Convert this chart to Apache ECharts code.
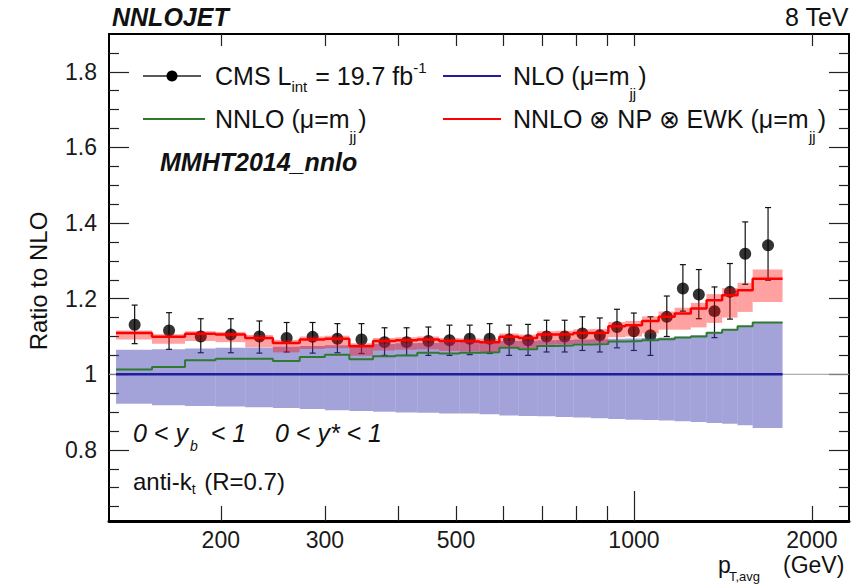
<!DOCTYPE html>
<html><head><meta charset="utf-8">
<script src="https://cdn.jsdelivr.net/npm/echarts@6/dist/echarts.min.js"></script>
<style>html,body{margin:0;padding:0;background:#fff}#c{width:864px;height:586px}</style>
</head><body><div id="c"></div>
<script>
// ---------------- data ----------------
const binEdges = [133,153,174,196,220,245,272,300,330,362,395,430,468,507,548,592,638,686,737,790,846,905,967,1032,1101,1172,1248,1327,1410,1497,1588,1784];
const cmsRatio = [1.131,1.116,1.100,1.105,1.100,1.096,1.099,1.094,1.092,1.085,1.085,1.088,1.090,1.094,1.094,1.092,1.090,1.100,1.100,1.108,1.103,1.125,1.114,1.103,1.152,1.227,1.211,1.167,1.218,1.319,1.341];
const cmsHigh  = [1.183,1.163,1.147,1.147,1.141,1.137,1.137,1.134,1.134,1.123,1.123,1.125,1.130,1.130,1.134,1.130,1.132,1.143,1.143,1.152,1.149,1.172,1.162,1.152,1.207,1.290,1.277,1.231,1.293,1.403,1.441];
const cmsLow   = [1.081,1.066,1.057,1.057,1.056,1.059,1.056,1.057,1.055,1.050,1.050,1.050,1.050,1.052,1.055,1.050,1.050,1.059,1.059,1.063,1.059,1.070,1.063,1.050,1.100,1.167,1.147,1.097,1.146,1.238,1.249];
const nnloRatio = [1.013,1.019,1.037,1.041,1.041,1.035,1.046,1.052,1.040,1.048,1.050,1.057,1.055,1.057,1.058,1.070,1.066,1.075,1.076,1.079,1.080,1.087,1.088,1.090,1.093,1.097,1.100,1.110,1.118,1.127,1.137];
const fullRatio = [1.109,1.099,1.107,1.105,1.096,1.083,1.092,1.094,1.074,1.088,1.090,1.092,1.088,1.087,1.085,1.099,1.096,1.105,1.106,1.109,1.110,1.127,1.130,1.141,1.152,1.161,1.174,1.196,1.209,1.222,1.253];
const fullUp   = [1.116,1.106,1.114,1.112,1.104,1.091,1.100,1.102,1.082,1.096,1.098,1.100,1.096,1.095,1.094,1.108,1.105,1.114,1.115,1.119,1.120,1.138,1.141,1.153,1.166,1.176,1.189,1.212,1.228,1.242,1.277];
const fullDown = [1.092,1.081,1.088,1.085,1.072,1.058,1.067,1.069,1.049,1.063,1.065,1.066,1.062,1.061,1.059,1.072,1.069,1.078,1.079,1.082,1.083,1.098,1.100,1.108,1.118,1.118,1.124,1.136,1.150,1.165,1.191];
const nloRatio = [1,1,1,1,1,1,1,1,1,1,1,1,1,1,1,1,1,1,1,1,1,1,1,1,1,1,1,1,1,1,1];
const nloUp   = [1.065,1.066,1.068,1.070,1.071,1.073,1.075,1.077,1.078,1.080,1.082,1.083,1.085,1.086,1.087,1.088,1.089,1.090,1.091,1.092,1.093,1.094,1.095,1.096,1.097,1.099,1.103,1.112,1.119,1.128,1.138];
const nloDown = [0.922,0.918,0.916,0.915,0.913,0.911,0.908,0.905,0.903,0.901,0.899,0.898,0.896,0.896,0.894,0.891,0.890,0.889,0.887,0.886,0.884,0.882,0.880,0.879,0.878,0.876,0.874,0.871,0.869,0.865,0.858];
const xTickValues = [200,300,400,500,600,700,800,900,2000];
const xLongTickValues = [1000];
const xLabelValues = [200,300,500,1000,2000];
const yMajorValues = [0.8,1.0,1.2,1.4,1.6,1.8];
const yMinorValues = [0.65,0.7,0.75,0.85,0.9,0.95,1.05,1.1,1.15,1.25,1.3,1.35,1.45,1.5,1.55,1.65,1.7,1.75,1.85];
const xRange = [129.4, 2311];
const yRange = [0.612, 1.9];

// ---------------- helpers ----------------
const FF = '"Liberation Sans", Arial, Helvetica, sans-serif';
const mctx = document.createElement('canvas').getContext('2d');
function fnt(size, st) { return (st ? st + ' ' : '') + size + 'px ' + FF; }
function meas(t, size, st) { mctx.font = fnt(size, st); return mctx.measureText(t).width; }
function textRun(x, y, parts, color) {
  const els = []; let cx = x;
  parts.forEach(p => {
    const s = p.s || 25;
    cx += (p.pre || 0);
    els.push({type:'text', x: cx, y: y + (p.dy || 0), z: 100,
      style:{text:p.t, font:fnt(s, p.st), fill: color || '#111', align:'left', verticalAlign:'middle', textAlign:'left', textVerticalAlign:'middle'}});
    cx += meas(p.t, s, p.st) + (p.gap || 0);
  });
  return els;
}
function hline(x1, x2, y, color, w) {
  return {type:'line', z:100, shape:{x1:x1, y1:y, x2:x2, y2:y}, style:{stroke:color, lineWidth:w}};
}

const COL_NLO = '#1e1e9e', COL_NNLO = '#2f7a2f', COL_FULL = '#ff0000';

// derived structures
const centers = cmsRatio.map((_, i) => (binEdges[i] + binEdges[i + 1]) / 2);
const pointData = cmsRatio.map((v, i) => [centers[i], v]);
const errData = cmsRatio.map((v, i) => [centers[i], cmsLow[i], cmsHigh[i]]);
const nloBand = nloUp.map((u, i) => [binEdges[i], binEdges[i + 1], nloDown[i], u]);
const fullBand = fullUp.map((u, i) => [binEdges[i], binEdges[i + 1], fullDown[i], u]);
const stepData = arr => binEdges.map((e, i) => [e, arr[Math.min(i, arr.length - 1)]]);

function bandRender(fill) {
  return function (params, api) {
    const a = api.coord([api.value(0), api.value(3)]);
    const b = api.coord([api.value(1), api.value(2)]);
    return {type:'rect', shape:{x:a[0], y:a[1], width:b[0] - a[0], height:b[1] - a[1]}, style:{fill:fill}};
  };
}
function errRender(params, api) {
  const x = api.value(0);
  const t = api.coord([x, api.value(2)]);
  const b = api.coord([x, api.value(1)]);
  const c = 3, st = {stroke:'#111', lineWidth:1.2};
  return {type:'group', children:[
    {type:'line', shape:{x1:t[0], y1:t[1], x2:b[0], y2:b[1]}, style:st},
    {type:'line', shape:{x1:t[0] - c, y1:t[1], x2:t[0] + c, y2:t[1]}, style:st},
    {type:'line', shape:{x1:b[0] - c, y1:b[1], x2:b[0] + c, y2:b[1]}, style:st}
  ]};
}

const axFont = {fontFamily: FF, fontSize: 23, color: '#1a1a1a'};
function xAx(pos, ticks, len, labels, lineW) {
  return {type:'log', logBase:10, min:xRange[0], max:xRange[1], position:pos, gridIndex:0,
    axisLine: lineW ? {show:true, onZero:false, lineStyle:{color:'#000', width:lineW}} : {show:false},
    axisTick:{show:true, inside:true, length:len, customValues:ticks, lineStyle:{color:'#222', width:1.2}},
    axisLabel: labels ? Object.assign({show:true, customValues:labels, margin:7, formatter: v => String(Math.round(v))}, axFont) : {show:false},
    splitLine:{show:false}, minorTick:{show:false}};
}
function yAx(pos, ticks, len, labels, lineW) {
  return {type:'value', min:yRange[0], max:yRange[1], position:pos, gridIndex:0,
    axisLine: lineW ? {show:true, onZero:false, lineStyle:{color:'#000', width:lineW}} : {show:false},
    axisTick:{show:true, inside:true, length:len, customValues:ticks, lineStyle:{color:'#222', width:1.2}},
    axisLabel: labels ? Object.assign({show:true, customValues:labels, margin:12, formatter: v => String(Math.round(v * 10) / 10)}, axFont) : {show:false},
    splitLine:{show:false}};
}

// ---------------- graphics (texts & legend) ----------------
const g = [];
g.push(...textRun(112, 17, [{t:'NNLOJET', s:25, st:'italic bold'}]));
const tev = '8 TeV';
g.push(...textRun(849 - meas(tev, 25), 17, [{t:tev, s:25}]));
g.push({type:'text', x:38, y:281, rotation:Math.PI / 2, z:100,
  style:{text:'Ratio to NLO', font:fnt(24), fill:'#111', align:'center', verticalAlign:'middle', textAlign:'center', textVerticalAlign:'middle'}});
// legend row 1
g.push(hline(143, 201, 76, '#222', 1.5));
g.push({type:'circle', z:100, shape:{cx:172, cy:76, r:5.5}, style:{fill:'#000'}});
g.push(...textRun(215, 76, [{t:'CMS L', s:25}, {t:'int', s:15, dy:10, gap:1}, {t:' = 19.7 fb', s:25}, {t:'-1', s:15, dy:-9}]));
g.push(hline(443, 501, 76, COL_NLO, 2));
g.push(...textRun(513, 76, [{t:'NLO (μ=m', s:25}, {t:'jj', s:15, dy:17, gap:2}, {t:')', s:25}]));
// legend row 2
g.push(hline(143, 205, 119, COL_NNLO, 2));
g.push(...textRun(215, 119, [{t:'NNLO (μ=m', s:25}, {t:'jj', s:15, dy:17, gap:2}, {t:')', s:25}]));
g.push(hline(443, 501, 119, COL_FULL, 2));
g.push(...textRun(513, 119, [{t:'NNLO ⊗ NP ⊗ EWK (μ=m', s:25}, {t:'jj', s:15, dy:17, gap:2}, {t:')', s:25}]));
g.push(...textRun(160, 162, [{t:'MMHT2014_nnlo', s:25, st:'italic bold'}]));
// kinematic labels
g.push(...textRun(133, 433, [{t:'0 < y', s:25, st:'italic'}, {t:'b', s:14, st:'italic', dy:13, pre:2, gap:6}, {t:' < 1', s:25, st:'italic'}]));
g.push(...textRun(275, 433, [{t:'0 < y* < 1', s:25, st:'italic'}]));
g.push(...textRun(133, 481, [{t:'anti-k', s:24}, {t:'t', s:14, dy:8, gap:2}, {t:' (R=0.7)', s:24}]));
// x title
g.push(...textRun(718, 565, [{t:'p', s:23}]));
g.push(...textRun(729, 576, [{t:'T,avg', s:13}]));
g.push(...textRun(783, 565, [{t:'(GeV)', s:23}]));

// ---------------- chart ----------------
const chart = echarts.init(document.getElementById('c'), null, {renderer:'svg', width:864, height:586});
chart.setOption({
  backgroundColor:'#fff',
  animation:false,
  grid:{left:109, top:34, width:740, height:487, containLabel:false},
  xAxis:[
    xAx('bottom', xTickValues, 15, xLabelValues, 3),
    xAx('bottom', xLongTickValues, 30, null, 0),
    xAx('top', xTickValues.concat(xLongTickValues), 12, null, 2)
  ],
  yAxis:[
    yAx('left', yMajorValues, 20, yMajorValues, 2),
    yAx('left', yMinorValues, 10, null, 0),
    yAx('right', yMajorValues, 20, null, 2),
    yAx('right', yMinorValues, 10, null, 0)
  ],
  series:[
    {type:'line', name:'ref', data:[[xRange[0], 1], [xRange[1], 1]], symbol:'none', z:1,
      lineStyle:{color:'#999', width:1}, silent:true},
    {type:'custom', name:'CMS err', data:errData, renderItem:errRender, encode:{x:0, y:[1, 2]}, z:2},
    {type:'scatter', name:'CMS', data:pointData, symbol:'circle', symbolSize:12, itemStyle:{color:'#000'}, z:3},
    {type:'custom', name:'NLO band', data:nloBand, renderItem:bandRender('rgba(60,60,176,0.47)'), encode:{x:[0, 1], y:[2, 3]}, z:4},
    {type:'custom', name:'NNLO NP EWK band', data:fullBand, renderItem:bandRender('rgba(255,0,0,0.37)'), encode:{x:[0, 1], y:[2, 3]}, z:5},
    {type:'line', name:'NLO', data:stepData(nloRatio), step:'end', symbol:'none', z:6, lineStyle:{color:COL_NLO, width:2.5}},
    {type:'line', name:'NNLO', data:stepData(nnloRatio), step:'end', symbol:'none', z:7, lineStyle:{color:COL_NNLO, width:2}},
    {type:'line', name:'NNLO x NP x EWK', data:stepData(fullRatio), step:'end', symbol:'none', z:8, lineStyle:{color:COL_FULL, width:2.5}}
  ],
  graphic:{elements:g}
});
</script>
</body></html>
